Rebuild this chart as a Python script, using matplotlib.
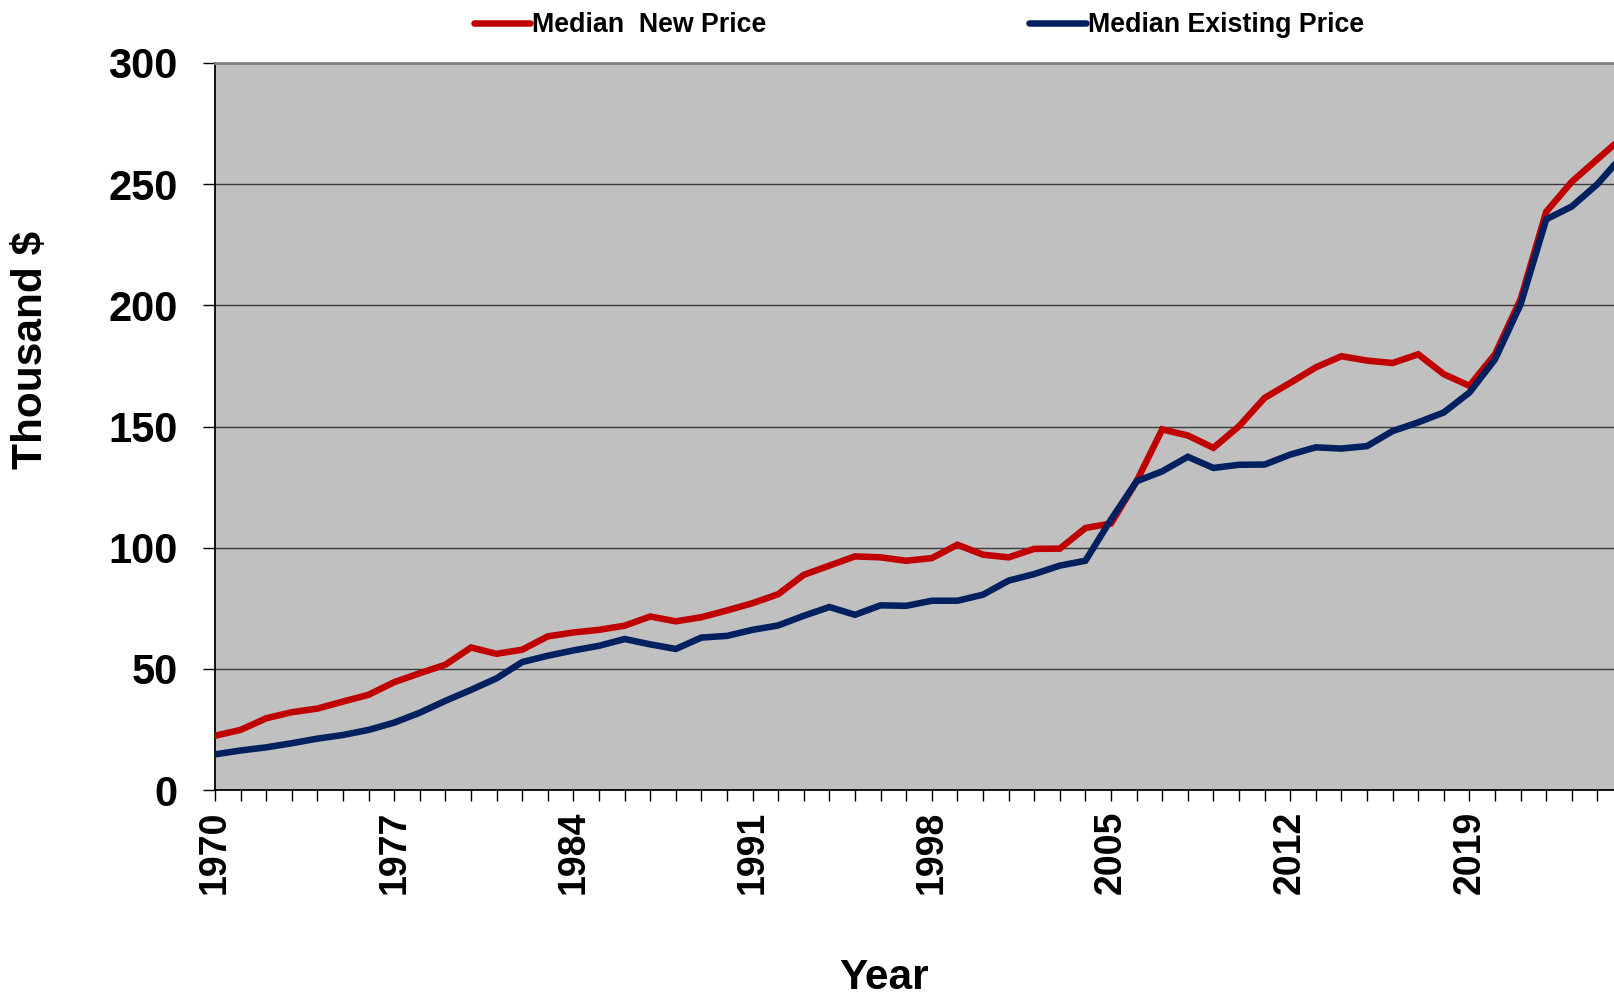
import matplotlib
matplotlib.use("Agg")
import matplotlib.pyplot as plt
import matplotlib.ticker as mtick

# Median home prices, thousand dollars
years = list(range(1970, 2026))
new_price = [22.4, 24.8, 29.6, 32.1, 33.6, 36.5, 39.3, 44.5, 48.2, 51.7,
             58.8, 56.2, 57.9, 63.4, 65.0, 66.1, 67.8, 71.6, 69.6, 71.3,
             74.1, 77.1, 80.8, 88.8, 92.6, 96.4, 96.0, 94.6, 95.7, 101.2,
             97.1, 96.0, 99.5, 99.6, 108.1, 110.0, 127.4, 148.8, 146.3, 141.2,
             150.1, 161.8, 168.0, 174.4, 179.0, 177.2, 176.2, 179.8, 171.6, 166.8,
             179.8, 202.5, 238.6, 251.0, 260.3, 269.5]
existing_price = [14.7, 16.3, 17.6, 19.3, 21.2, 22.7, 24.8, 27.8, 31.9, 36.8,
                  41.3, 46.1, 52.8, 55.4, 57.6, 59.5, 62.3, 60.1, 58.2, 62.9,
                  63.6, 66.1, 67.9, 71.9, 75.5, 72.3, 76.2, 76.0, 78.1, 78.1,
                  80.6, 86.4, 89.1, 92.6, 94.6, 111.6, 127.4, 131.5, 137.5, 132.9,
                  134.2, 134.3, 138.4, 141.4, 140.9, 141.9, 148.1, 151.7, 155.8, 164.0,
                  177.7, 200.4, 235.5, 240.8, 250.0, 262.0]
label_years = list(range(1970, 2025, 7))
y_ticks = [0, 50, 100, 150, 200, 250, 300]

plt.rcParams['font.family'] = ['Liberation Sans', 'DejaVu Sans']
plt.rcParams['font.weight'] = 'bold'

W, H = 1615, 999
fig = plt.figure(figsize=(W / 100, H / 100), dpi=100)
# plot area in pixels: left 215, top 63, bottom 790, runs off the right edge
ax = fig.add_axes([215 / W, 1 - 790 / H, 1 - 215 / W, (790 - 63) / H])
ax.set_facecolor('#c0c0c0')

ax.plot(years, new_price, color='#c00000', linewidth=4.7, label='Median  New Price',
        solid_joinstyle='miter', solid_capstyle='round', zorder=3)
ax.plot(years, existing_price, color='#002060', linewidth=4.7, label='Median Existing Price',
        solid_joinstyle='miter', solid_capstyle='round', zorder=4)

ax.set_xlim(1970, 1970 + (W - 215) / 25.6)
ax.set_ylim(0, 300)

ax.set_yticks(y_ticks)
ax.set_yticklabels([str(v) for v in y_ticks])
ax.yaxis.grid(True, color='#3a3a3a', linewidth=1.0)
ax.set_axisbelow(True)

ax.xaxis.set_major_locator(mtick.FixedLocator(label_years))
ax.xaxis.set_minor_locator(mtick.MultipleLocator(1))
ax.set_xticklabels([str(y) for y in label_years], rotation=90)

ax.tick_params(axis='y', direction='out', length=9, width=1.0, pad=18,
               labelsize=30, colors='black')
ax.tick_params(axis='x', which='both', direction='out', length=8, width=1.0,
               pad=7, labelsize=27, colors='black')

for side in ['left', 'bottom']:
    ax.spines[side].set_color('black')
    ax.spines[side].set_linewidth(1.3)
ax.spines['top'].set_color('#808080')
ax.spines['top'].set_linewidth(2.0)
ax.spines['right'].set_visible(False)

fig.text(31 / W, 1 - 350 / H, 'Thousand $', rotation=90, ha='center', va='center',
         fontsize=30.5, fontweight='bold')
fig.text(884 / W, 1 - 978 / H, 'Year', ha='center', va='center',
         fontsize=30.5, fontweight='bold')

fig.legend(loc='center left', bbox_to_anchor=(474 / W, 1 - 25 / H), ncol=2,
           frameon=False, handlelength=2.1, handletextpad=0.08,
           columnspacing=9.8, borderpad=0, borderaxespad=0,
           prop={'weight': 'bold', 'size': 19.3})

fig.savefig('out.png', dpi=100)
